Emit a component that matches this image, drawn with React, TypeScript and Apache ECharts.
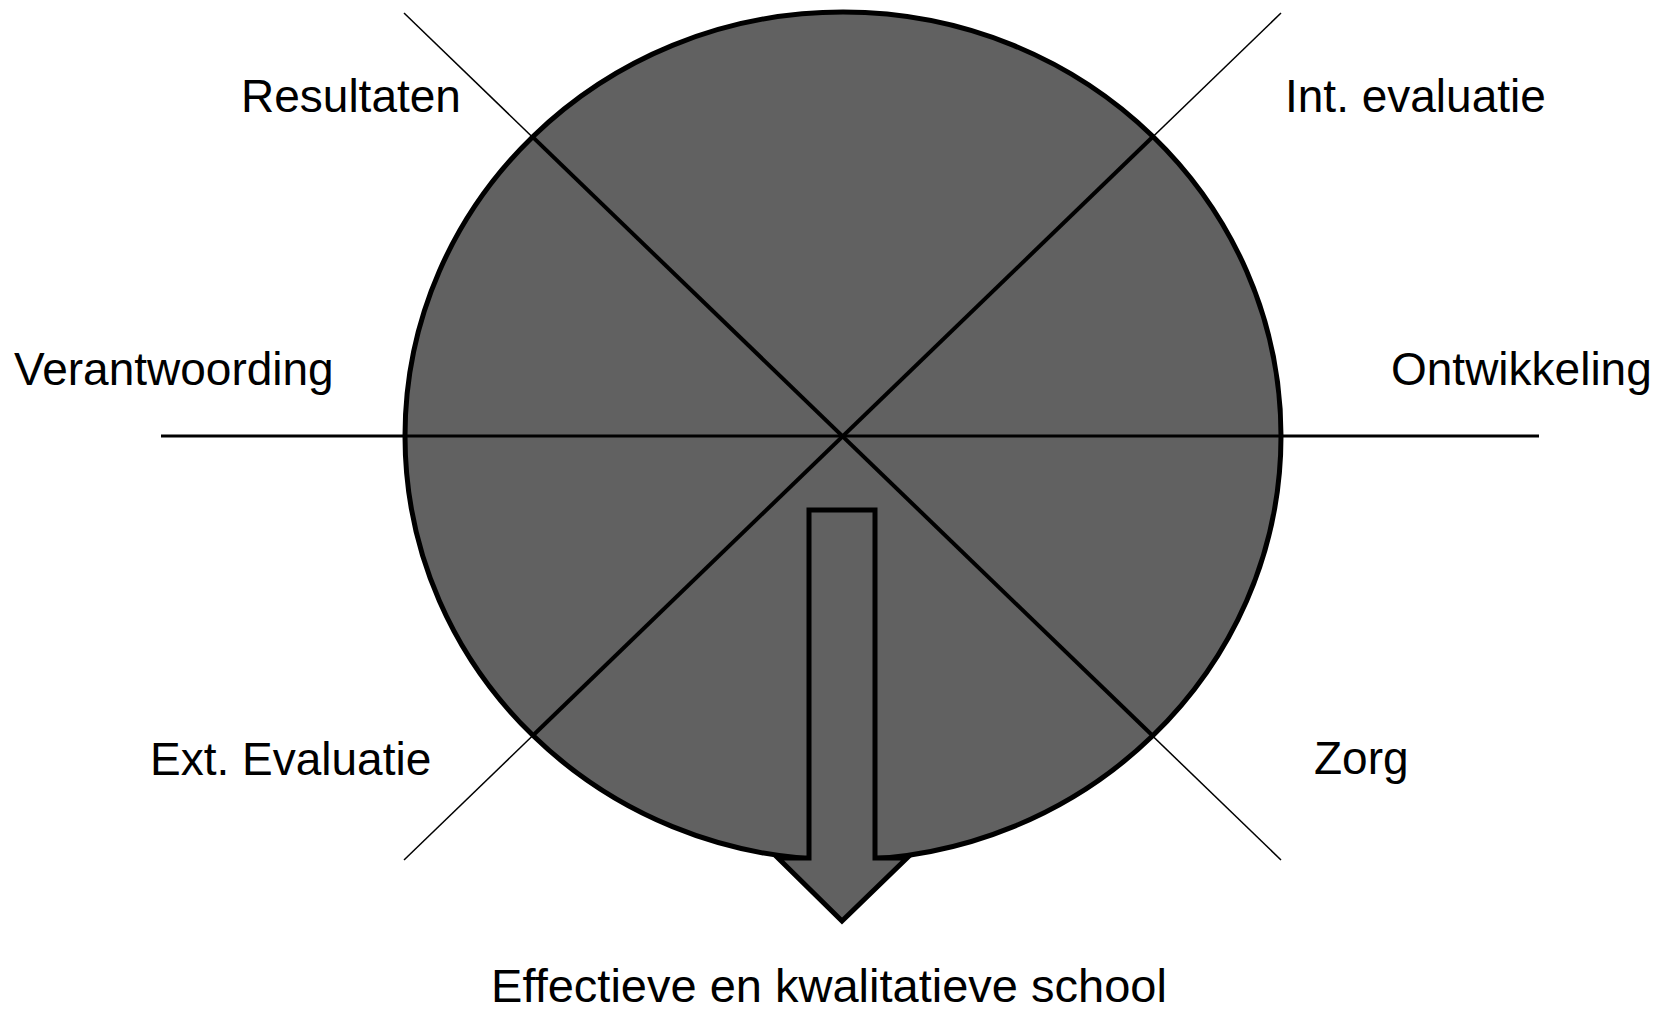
import React, { useEffect, useRef } from "react";
import * as echarts from "echarts";

// Diagram content
const cornerLabels = ["Resultaten", "Int. evaluatie", "Verantwoording", "Ontwikkeling", "Ext. Evaluatie", "Zorg"];
const bottomLabel = "Effectieve en kwalitatieve school";

// Layout (pixels)
const labelPos: [number, number][] = [
  [241, 112],
  [1285, 112],
  [14, 385],
  [1391, 385],
  [150, 775],
  [1314, 774],
];
const bottomPos: [number, number] = [829, 1001];

const CX = 843;
const CY = 436;
const RX = 438;
const RY = 424;
const FILL = "#616161";
const FAMILY = "'Liberation Sans', Arial, Helvetica, sans-serif";
const FONT = "46px " + FAMILY;
const BOTTOM_FONT = "47px " + FAMILY;

function ellipsePoint(dx: number, dy: number): [number, number] {
  const t = 1 / Math.sqrt((dx / RX) ** 2 + (dy / RY) ** 2);
  return [CX + dx * t, CY + dy * t];
}

export default function App() {
  const ref = useRef<HTMLDivElement>(null);
  useEffect(() => {
    document.body.style.margin = "0";
    document.body.style.overflow = "hidden";
    if (!ref.current) return;
    const chart = echarts.init(ref.current, undefined, { renderer: "svg" });

    const diagEnds: [number, number, number, number][] = [
      [404, 13, 1281, 860],
      [1281, 13, 404, 860],
    ];

    const elements: any[] = [];
    elements.push({
      type: "ellipse",
      shape: { cx: CX, cy: CY, rx: RX, ry: RY },
      style: { fill: FILL, stroke: "#000", lineWidth: 5 },
      z: 1,
    });
    diagEnds.forEach(([x1, y1, x2, y2]) => {
      elements.push({
        type: "line",
        shape: { x1, y1, x2, y2 },
        style: { stroke: "#000", lineWidth: 1.5 },
        z: 0,
      });
      const a = ellipsePoint(x1 - CX, y1 - CY);
      const b = ellipsePoint(x2 - CX, y2 - CY);
      elements.push({
        type: "line",
        shape: { x1: a[0], y1: a[1], x2: b[0], y2: b[1] },
        style: { stroke: "#000", lineWidth: 4 },
        z: 2,
      });
    });
    elements.push({
      type: "line",
      shape: { x1: 161, y1: CY, x2: 1539, y2: CY },
      style: { stroke: "#000", lineWidth: 3 },
      z: 2,
    });
    elements.push({
      type: "polygon",
      shape: {
        points: [
          [809, 510],
          [875, 510],
          [875, 858],
          [907, 858],
          [842, 921],
          [778, 858],
          [809, 858],
        ],
      },
      style: { fill: FILL, stroke: "#000", lineWidth: 5, lineJoin: "miter" },
      z: 3,
    });
    cornerLabels.forEach((t, i) => {
      elements.push({
        type: "text",
        x: labelPos[i][0],
        y: labelPos[i][1] - 16,
        style: {
          text: t,
          font: FONT,
          fill: "#000",
          textAlign: "left",
          textVerticalAlign: "middle",
        },
        z: 4,
      });
    });
    elements.push({
      type: "text",
      x: bottomPos[0],
      y: bottomPos[1] - 16,
      style: {
        text: bottomLabel,
        font: BOTTOM_FONT,
        fill: "#000",
        textAlign: "center",
        textVerticalAlign: "middle",
        lineHeight: 40,
      },
      z: 4,
    });

    chart.setOption({
      animation: false,
      backgroundColor: "#fff",
      graphic: { elements },
    });
    return () => chart.dispose();
  }, []);
  return <div ref={ref} style={{ width: 1664, height: 1010 }} />;
}
